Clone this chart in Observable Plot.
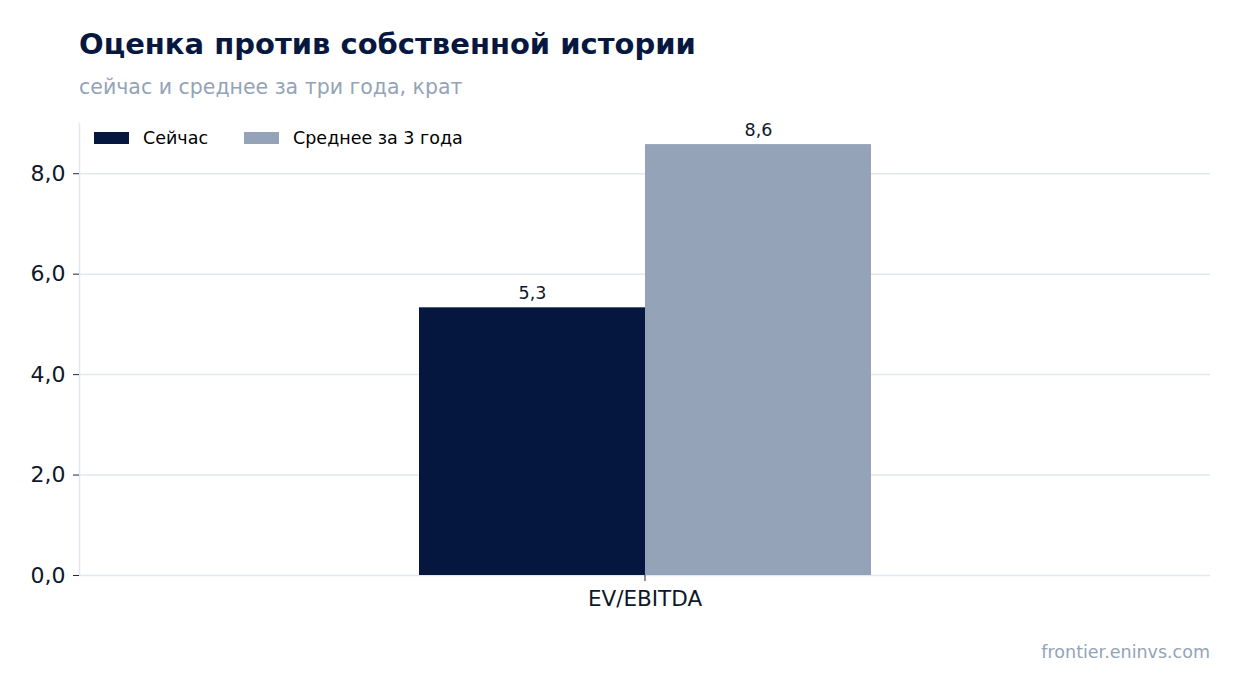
<!DOCTYPE html>
<html>
<head>
<meta charset="utf-8">
<script src="https://cdn.jsdelivr.net/npm/d3@7"></script>
<script src="https://cdn.jsdelivr.net/npm/@observablehq/plot@0.6"></script>
<style>
  html, body { margin: 0; padding: 0; background: #fff; }
  body { width: 1241px; height: 693px; position: relative; overflow: hidden; font-family: "DejaVu Sans", sans-serif; }
  #title { position: absolute; left: 79px; top: 27px; font-size: 29px; font-weight: bold; color: #071840; white-space: nowrap; }
  #subtitle { position: absolute; left: 79px; top: 75px; font-size: 20.5px; color: #94a3b8; white-space: nowrap; }
  #chart { position: absolute; left: 0; top: 0; }
  #legend { position: absolute; left: 94px; top: 128px; font-size: 17.5px; color: #000; display: flex; align-items: center; white-space: nowrap; }
  #legend .item { display: flex; align-items: center; margin-right: 36px; }
  #legend .sw { width: 35px; height: 12px; margin-right: 14px; }
  #caption { position: absolute; right: 31px; top: 642px; font-size: 17.5px; color: #94a3b8; }
</style>
</head>
<body>
<div id="chart"></div>
<div id="title">Оценка против собственной истории</div>
<div id="subtitle">сейчас и среднее за три года, крат</div>
<div id="legend"></div>
<div id="caption">frontier.eninvs.com</div>
<script>
const categories = ["EV/EBITDA"];
const seriesNames = ["Сейчас", "Среднее за 3 года"];
const seriesColors = ["#05163f", "#94a3b8"];
const nowValues = [5.33];
const avgValues = [8.58];
const yTicks = [0, 2, 4, 6, 8];

const data = [];
categories.forEach((c, i) => {
  data.push({category: c, series: seriesNames[0], value: nowValues[i]});
  data.push({category: c, series: seriesNames[1], value: avgValues[i]});
});

const fmt = v => v.toFixed(1).replace(".", ",");

const plot = Plot.plot({
  width: 1241,
  height: 693,
  marginTop: 123,
  marginBottom: 118,
  marginLeft: 79,
  marginRight: 31,
  style: {fontFamily: "DejaVu Sans, sans-serif", fontSize: "20px", color: "#0f172a", background: "transparent"},
  fx: {domain: categories, padding: 0, label: null},
  x: {domain: seriesNames, paddingInner: 0, paddingOuter: 1.5, axis: null},
  y: {domain: [0, 9], label: null},
  color: {domain: seriesNames, range: seriesColors},
  marks: [
    Plot.ruleY(yTicks, {y: d => d, stroke: "#e2e8f0", strokeWidth: 1.5}),
    Plot.frame({anchor: "left", stroke: "#e2e8f0", strokeWidth: 1.5}),
    Plot.barY(data, {fx: "category", x: "series", y: "value", fill: "series"}),
    Plot.text(data, {fx: "category", x: "series", y: "value", text: d => fmt(d.value), lineAnchor: "bottom", dy: -9, fontSize: 17.5, fill: "#0f172a"}),
    Plot.axisY({ticks: yTicks, tickFormat: fmt, tickSize: 6, tickPadding: 8, stroke: "#1e293b", fontSize: 22, label: null}),
    Plot.axisFx({anchor: "bottom", tickSize: 6, tickPadding: 9, fontSize: 21.5, label: null, stroke: "#1e293b"})
  ]
});
document.getElementById("chart").appendChild(plot);

const legend = document.getElementById("legend");
seriesNames.forEach((s, i) => {
  const item = document.createElement("div");
  item.className = "item";
  const sw = document.createElement("div");
  sw.className = "sw";
  sw.style.background = seriesColors[i];
  const t = document.createElement("span");
  t.textContent = s;
  item.appendChild(sw);
  item.appendChild(t);
  legend.appendChild(item);
});
</script>
</body>
</html>
